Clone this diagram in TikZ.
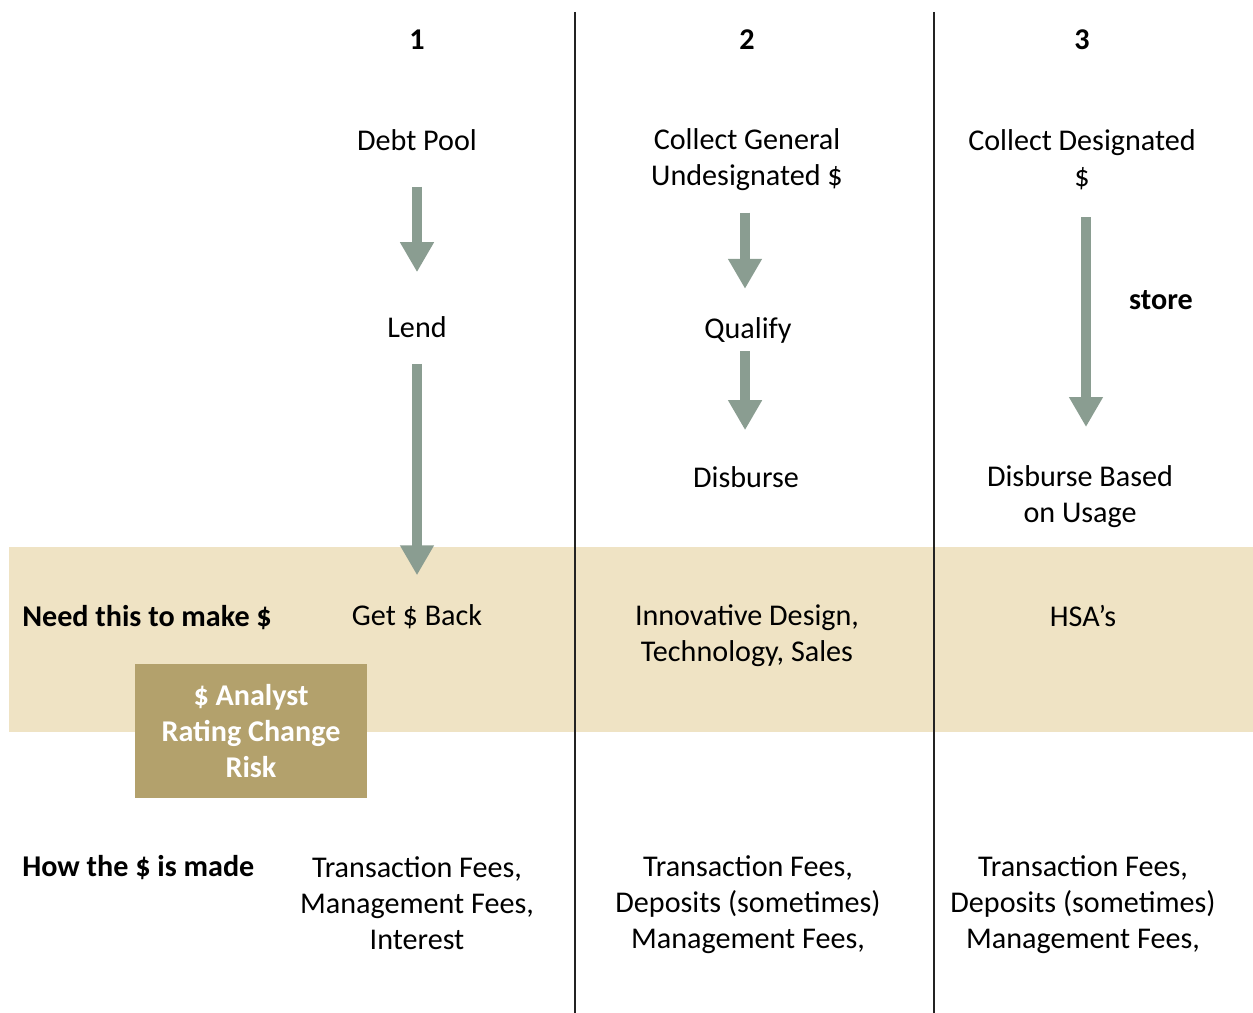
\documentclass[tikz,border=0pt]{standalone}
\usepackage{fontspec}
\setmainfont{Carlito}
\usetikzlibrary{arrows.meta}

\definecolor{bandtan}{RGB}{239,227,196}
\definecolor{boxgold}{RGB}{179,161,108}
\definecolor{flowgray}{RGB}{138,157,145}
\definecolor{rulegray}{RGB}{35,35,35}

\tikzset{
  txt/.style={inner sep=0pt, align=center, font=\fontsize{22.6}{27}\selectfont},
  hd/.style={txt, font=\fontsize{22.6}{27}\selectfont\bfseries},
  flow/.style={draw=flowgray, line width=7.5pt,
    -{Triangle[width=24pt, length=22.5pt]}}
}

\begin{document}
\begin{tikzpicture}[x=0.75pt, y=-0.75pt]
    \useasboundingbox (0,0) rectangle (1253,1013);

    % draw band and box
    \fill[bandtan] (9,547) rectangle (1253,732);
    \node[fill=boxgold, minimum width=174pt, minimum height=100pt, inner sep=0pt,
      text=white, align=center, font=\fontsize{22.6}{27}\selectfont\bfseries]
      (risk) at (251,731) {\$ Analyst\\Rating Change\\Risk};

    % draw vertical lines
    \foreach \x in {575, 934}
      \draw[rulegray, line width=1.6pt] (\x,12) -- (\x,1013);

    % draw nodes
    \node[hd] (c1) at (417,40) {1};
    \node[hd] (c2) at (747,40) {2};
    \node[hd] (c3) at (1082,40) {3};

    \node[txt] (pool) at (417,140) {Debt Pool};
    \node[txt] (lend) at (417,327) {Lend};
    \node[txt] (back) at (417,617) {Get \$ Back};

    \node[txt] (general) at (747,160) {Collect General\\Undesignated \$};
    \node[txt] (qualify) at (748,330) {Qualify};
    \node[txt] (disburse) at (746,477) {Disburse};
    \node[txt] (design) at (747,636) {Innovative Design,\\Technology, Sales};

    \node[txt] (designated) at (1082,160) {Collect Designated\\\$};
    \node[hd] (store) at (1161,300) {store};
    \node[txt] (usage) at (1080,497) {Disburse Based\\on Usage};
    \node[txt] (hsa) at (1083,616) {HSA’s};

    \node[hd, anchor=west] (need) at (22,618) {Need this to make \$};
    \node[hd, anchor=west] (how) at (22,868) {How the \$ is made};

    \node[txt] (fees1) at (417,903) {Transaction Fees,\\Management Fees,\\Interest};
    \node[txt] (fees2) at (748,905) {Transaction Fees,\\Deposits (sometimes)\\Management Fees,};
    \node[txt] (fees3) at (1083,905) {Transaction Fees,\\Deposits (sometimes)\\Management Fees,};

    % draw arrows
    \draw[flow, shorten <=27pt, shorten >=33pt] (pool.south) -- (lend.north);
    \draw[flow, shorten <=19.5pt, shorten >=22pt] (lend.south) -- (back.north);
    \draw[flow, shorten <=16pt, shorten >=21pt]
      ([xshift=-1.5pt]general.south) -- ([xshift=-1.5pt]general.south |- qualify.north);
    \draw[flow, shorten <=6pt, shorten >=27pt]
      ([xshift=-2.2pt]qualify.south) -- ([xshift=-2.2pt]qualify.south |- disburse.north);
    \draw[flow, shorten <=20pt, shorten >=29pt]
      ([xshift=3pt]designated.south) -- ([xshift=3pt]designated.south |- usage.north);
  \end{tikzpicture}
\end{document}
